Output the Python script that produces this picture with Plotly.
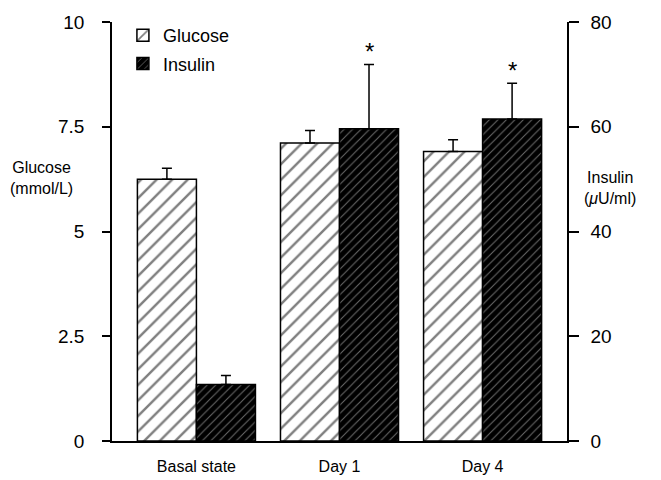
import plotly.graph_objects as go

categories = ["Basal state", "Day 1", "Day 4"]
glucose = [6.25, 7.11, 6.91]
glucose_err = [0.26, 0.30, 0.28]
insulin = [10.8, 59.6, 61.5]
insulin_err = [1.7, 12.3, 6.8]
significant = [False, True, True]
left_ticks = [0, 2.5, 5, 7.5, 10]
left_labels = ["0", "2.5", "5", "7.5", "10"]
right_ticks = [0, 20, 40, 60, 80]

FONT = "Liberation Sans, Arial, Helvetica, sans-serif"

fig = go.Figure()
fig.add_trace(go.Bar(
    x=categories, y=glucose, name="Glucose", yaxis="y", offsetgroup="g",
    legendgroup="g",
    marker=dict(color="white", line=dict(color="black", width=1.5),
                pattern=dict(shape="/", bgcolor="white", fgcolor="black",
                             size=11, solidity=0.22, fillmode="overlay")),
    error_y=dict(type="data", array=glucose_err, arrayminus=[0]*3,
                 symmetric=False, color="black", thickness=1.5, width=5),
))
fig.add_trace(go.Bar(
    x=categories, y=insulin, name="Insulin", yaxis="y2", offsetgroup="i",
    legendgroup="i",
    marker=dict(color="black", line=dict(color="black", width=1.5),
                pattern=dict(shape="/", bgcolor="black", fgcolor="#d0d0d0",
                             size=6, solidity=0.18, fillmode="overlay")),
    error_y=dict(type="data", array=insulin_err, arrayminus=[0]*3,
                 symmetric=False, color="black", thickness=1.5, width=5),
))

annotations = []
for c, v, e, s in zip(categories, insulin, insulin_err, significant):
    if s:
        annotations.append(dict(x=c, y=v + e, xref="x", yref="y2", text="*",
                                showarrow=False, xshift=30, yanchor="bottom",
                                yshift=-3, font=dict(size=24, family=FONT, color="black")))

annotations.append(dict(x=-0.154, y=0.628, xref="paper", yref="paper",
                        xanchor="center", yanchor="middle",
                        text="Glucose<br>(mmol/L)", showarrow=False, align="center",
                        font=dict(size=16, family=FONT, color="black")))
annotations.append(dict(x=1.094, y=0.604, xref="paper", yref="paper",
                        xanchor="center", yanchor="middle",
                        text="Insulin<br>(<i>μ</i>U/ml)", showarrow=False, align="center",
                        font=dict(size=16, family=FONT, color="black")))

fig.update_layout(
    width=661, height=480,
    margin=dict(l=104, r=102, t=14, b=47, autoexpand=False),
    plot_bgcolor="white", paper_bgcolor="white",
    barmode="group", bargap=0.175, bargroupgap=0,
    font=dict(family=FONT, size=16, color="black"),
    showlegend=True,
    legend=dict(x=0.024, y=1.012, xanchor="left", yanchor="top",
                bgcolor="rgba(0,0,0,0)", traceorder="grouped", tracegroupgap=2,
                font=dict(size=18, family=FONT, color="black")),
    xaxis=dict(showline=True, linecolor="black", linewidth=1.5, ticks="",
               range=[-0.59, 2.59], showgrid=False, ticklabelstandoff=10,
               automargin=False,
               tickfont=dict(size=16, family=FONT, color="black")),
    yaxis=dict(range=[0, 10], tickvals=left_ticks, ticktext=left_labels,
               showline=True, linecolor="black", linewidth=1.5,
               ticks="outside", ticklen=8, tickwidth=1.5, tickcolor="black",
               showgrid=False, zeroline=False, ticklabelstandoff=14,
               automargin=False,
               tickfont=dict(size=19, family=FONT, color="black")),
    yaxis2=dict(range=[0, 80], tickvals=right_ticks, overlaying="y", side="right",
                showline=True, linecolor="black", linewidth=1.5,
                ticks="outside", ticklen=10, tickwidth=1.5, tickcolor="black",
                showgrid=False, zeroline=False, ticklabelstandoff=8,
                automargin=False,
                tickfont=dict(size=19, family=FONT, color="black")),
    annotations=annotations,
)

fig.write_html("out.html")
